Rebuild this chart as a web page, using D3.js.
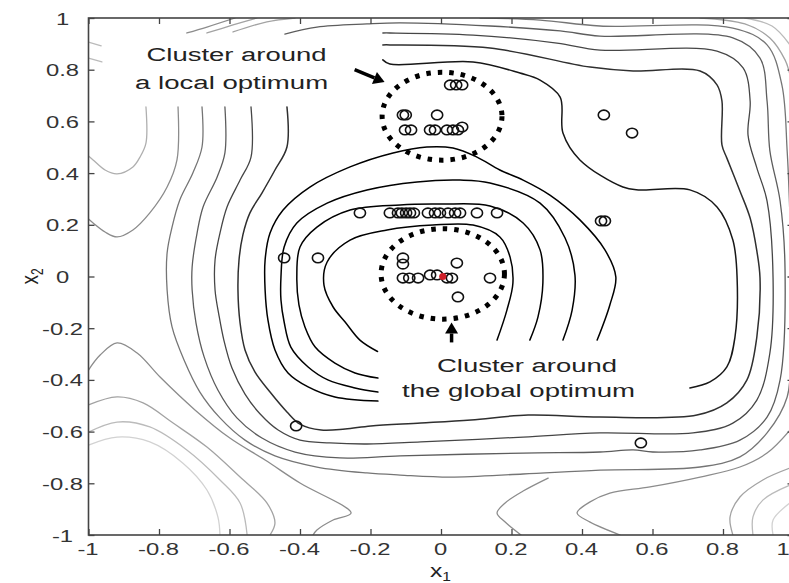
<!DOCTYPE html>
<html><head><meta charset="utf-8">
<script src="https://cdn.jsdelivr.net/npm/d3@7"></script>
<style>body{margin:0;background:#fff}svg{display:block}</style>
</head><body>
<svg id="c" width="789" height="583"></svg>
<script>
// ---------- DATA ----------
const xTickValues = [-1,-0.8,-0.6,-0.4,-0.2,0,0.2,0.4,0.6,0.8,1];
const xTickLabels = ["-1","-0.8","-0.6","-0.4","-0.2","0","0.2","0.4","0.6","0.8","1"];
const yTickValues = [-1,-0.8,-0.6,-0.4,-0.2,0,0.2,0.4,0.6,0.8,1];
const yTickLabels = ["-1","-0.8","-0.6","-0.4","-0.2","0","0.2","0.4","0.6","0.8","1"];

// contour polylines (x1, x2)
const ringH = [[-0.18,-0.29],[-0.23,-0.246],[-0.272,-0.176],[-0.306,-0.118],[-0.332,-0.033],[-0.323,0.056],[-0.258,0.141],[-0.153,0.18],[-0.023,0.199],[0.091,0.199],[0.167,0.153],[0.196,0.075],[0.204,-0.025],[0.187,-0.13],[0.159,-0.246]];
const ringG = [[-0.179,-0.393],[-0.244,-0.373],[-0.301,-0.335],[-0.357,-0.273],[-0.386,-0.195],[-0.403,-0.11],[-0.409,-0.002],[-0.4,0.114],[-0.352,0.191],[-0.258,0.257],[-0.116,0.277],[-0.003,0.28],[0.139,0.273],[0.233,0.207],[0.281,0.103],[0.289,-0.025],[0.275,-0.157],[0.252,-0.246]];
const ringF = [[-0.179,-0.447],[-0.244,-0.431],[-0.321,-0.4],[-0.377,-0.35],[-0.426,-0.273],[-0.445,-0.176],[-0.454,-0.091],[-0.454,-0.002],[-0.445,0.114],[-0.409,0.207],[-0.323,0.284],[-0.21,0.335],[-0.068,0.366],[0.054,0.373],[0.139,0.362],[0.281,0.284],[0.352,0.149],[0.38,0.006],[0.372,-0.13],[0.346,-0.246]];
const ringE = [[-0.179,-0.482],[-0.301,-0.466],[-0.377,-0.427],[-0.434,-0.373],[-0.471,-0.284],[-0.491,-0.168],[-0.499,-0.052],[-0.499,0.064],[-0.485,0.168],[-0.448,0.257],[-0.372,0.346],[-0.258,0.424],[-0.136,0.478],[-0.04,0.501],[0.034,0.497],[0.102,0.462],[0.167,0.412],[0.233,0.373],[0.309,0.315],[0.394,0.219],[0.465,0.103],[0.496,-0.002],[0.479,-0.11],[0.443,-0.246]];
const lineD = [[-0.165,0.838],[-0.145,0.822],[0.091,0.83],[0.224,0.787],[0.281,0.76],[0.338,0.694],[0.346,0.555],[0.394,0.451],[0.516,0.346],[0.565,0.335],[0.706,0.335],[0.783,0.269],[0.828,0.141],[0.84,-0.006],[0.834,-0.234],[0.811,-0.35],[0.763,-0.408],[0.706,-0.431]];
const lineC = [[-0.165,0.896],[-0.145,0.896],[0.139,0.884],[0.423,0.81],[0.545,0.795],[0.735,0.795],[0.783,0.741],[0.797,0.679],[0.797,0.509],[0.811,0.458],[0.848,0.331],[0.877,0.226],[0.896,0.099],[0.905,-0.006],[0.896,-0.234],[0.868,-0.4],[0.811,-0.489],[0.726,-0.536],[0.451,-0.544],[0.247,-0.536],[0.085,-0.555],[-0.057,-0.567],[-0.199,-0.578],[-0.272,-0.59],[-0.34,-0.594],[-0.4,-0.571],[-0.437,-0.524],[-0.485,-0.447],[-0.528,-0.369],[-0.556,-0.284],[-0.57,-0.18],[-0.576,-0.052],[-0.573,0.064],[-0.562,0.161],[-0.542,0.246],[-0.508,0.323],[-0.471,0.412],[-0.437,0.501],[-0.437,0.656]];
const lineB = [[-0.165,0.942],[-0.145,0.942],[0.091,0.934],[0.329,0.903],[0.451,0.876],[0.783,0.872],[0.857,0.807],[0.877,0.679],[0.871,0.547],[0.896,0.42],[0.925,0.292],[0.942,-0.006],[0.933,-0.296],[0.896,-0.478],[0.828,-0.567],[0.715,-0.605],[0.451,-0.605],[0.233,-0.621],[-0.057,-0.64],[-0.21,-0.648],[-0.315,-0.644],[-0.4,-0.633],[-0.462,-0.594],[-0.513,-0.532],[-0.556,-0.455],[-0.593,-0.354],[-0.616,-0.246],[-0.63,-0.149],[-0.641,-0.052],[-0.641,0.064],[-0.627,0.168],[-0.607,0.269],[-0.57,0.373],[-0.539,0.462],[-0.539,0.656]];
const lineA = [[-0.443,0.938],[-0.352,0.965],[-0.21,0.977],[-0.116,0.981],[0.139,0.969],[0.338,0.95],[0.451,0.93],[0.828,0.923],[0.905,0.845],[0.925,0.679],[0.933,0.486],[0.962,0.292],[0.976,0.025],[0.962,-0.4],[0.925,-0.544],[0.848,-0.633],[0.735,-0.671],[0.601,-0.679],[0.545,-0.671],[0.451,-0.679],[0.233,-0.683],[-0.116,-0.694],[-0.287,-0.702],[-0.414,-0.679],[-0.508,-0.625],[-0.579,-0.547],[-0.633,-0.439],[-0.672,-0.311],[-0.695,-0.18],[-0.706,-0.052],[-0.706,0.037],[-0.692,0.168],[-0.675,0.269],[-0.635,0.385],[-0.613,0.478],[-0.613,0.656]];
const line0 = [[-0.678,0.656],[-0.678,0.501],[-0.704,0.4],[-0.741,0.296],[-0.763,0.191],[-0.777,0.091],[-0.777,-0.052],[-0.763,-0.195],[-0.729,-0.323],[-0.684,-0.447],[-0.627,-0.547],[-0.556,-0.633],[-0.471,-0.694],[-0.352,-0.737],[-0.21,-0.76],[-0.116,-0.768],[0.026,-0.776],[0.233,-0.764],[0.451,-0.749],[0.735,-0.737],[0.848,-0.698],[0.925,-0.605],[0.982,-0.466],[0.99,-0.296]];
const line0Top = [[0.111,1.0],[0.281,0.992],[0.451,0.969],[0.828,0.961],[0.925,0.896],[0.967,0.741],[0.982,0.486],[0.99,0.226]];
const cornerTR1 = [[0.735,1.0],[0.862,0.977],[0.933,0.923],[0.976,0.838],[0.99,0.78]];
const cornerTR2 = [[0.862,1.0],[0.939,0.969],[0.99,0.896]];
const leftU1 = [[-0.837,0.656],[-0.837,0.516],[-0.854,0.462],[-0.874,0.424],[-0.919,0.397],[-0.953,0.412],[-0.987,0.451],[-1.0,0.466]];
const leftU2 = [[-0.746,0.656],[-0.749,0.451],[-0.777,0.346],[-0.826,0.246],[-0.874,0.18],[-0.919,0.153],[-0.953,0.172],[-0.987,0.207],[-1.0,0.222]];
const cornerBL1 = [[-1.0,-0.362],[-0.967,-0.304],[-0.919,-0.257],[-0.862,-0.296],[-0.797,-0.389],[-0.698,-0.516],[-0.599,-0.625],[-0.499,-0.71],[-0.4,-0.799],[-0.255,-0.915],[-0.306,-0.942],[-0.352,-0.981],[-0.363,-1.0]];
const cornerBL2 = [[-1.0,-0.497],[-0.919,-0.466],[-0.845,-0.489],[-0.76,-0.567],[-0.664,-0.66],[-0.57,-0.776],[-0.494,-0.876],[-0.471,-0.954],[-0.485,-1.0]];
const cornerBL3 = [[-1.0,-0.602],[-0.919,-0.563],[-0.826,-0.582],[-0.721,-0.671],[-0.627,-0.787],[-0.57,-0.876],[-0.55,-1.0]];
const cornerBL4 = [[-1.0,-0.652],[-0.919,-0.621],[-0.826,-0.64],[-0.732,-0.722],[-0.664,-0.826],[-0.633,-0.93],[-0.627,-1.0]];
const bottomTip1 = [[0.304,-0.78],[0.233,-0.83],[0.182,-0.876],[0.159,-0.915],[0.182,-0.95],[0.227,-1.0]];
const bottomTip2 = [[0.99,-0.594],[0.925,-0.683],[0.848,-0.737],[0.735,-0.776],[0.593,-0.814],[0.479,-0.838],[0.423,-0.872],[0.386,-0.915],[0.423,-0.95],[0.508,-1.0]];
const cornerBR1 = [[0.828,-1.0],[0.82,-0.93],[0.848,-0.853],[0.913,-0.787],[0.99,-0.741]];
const cornerBR2 = [[0.885,-1.0],[0.885,-0.93],[0.913,-0.865],[0.99,-0.807]];
const cornerBR3 = [[0.942,-1.0],[0.942,-0.942],[0.99,-0.876]];
const topD1 = [[-0.721,0.942],[-0.664,0.965],[-0.584,1.0]];
const topD2 = [[-0.664,0.942],[-0.59,0.973],[-0.522,1.0]];
const topD3 = [[-0.59,0.946],[-0.494,0.985],[-0.414,1.0]];
const edgeL1 = [[-1.0,0.907],[-0.964,0.892]];
const edgeL2 = [[-1.0,0.845],[-0.962,0.83]];

// contour level index of each polyline (higher = farther from the optimum)
const contourLines = [
  {pts: ringH, level: 1}, {pts: ringG, level: 2}, {pts: ringF, level: 3}, {pts: ringE, level: 4},
  {pts: lineD, level: 5}, {pts: lineC, level: 6}, {pts: lineB, level: 7}, {pts: lineA, level: 8},
  {pts: line0, level: 9}, {pts: line0Top, level: 9}, {pts: cornerTR1, level: 11}, {pts: cornerTR2, level: 12},
  {pts: leftU2, level: 10}, {pts: leftU1, level: 11.5},
  {pts: cornerBL1, level: 10}, {pts: cornerBL2, level: 11}, {pts: cornerBL3, level: 12}, {pts: cornerBL4, level: 13},
  {pts: bottomTip1, level: 10}, {pts: bottomTip2, level: 10},
  {pts: cornerBR1, level: 11}, {pts: cornerBR2, level: 12}, {pts: cornerBR3, level: 13},
  {pts: topD1, level: 10}, {pts: topD2, level: 11}, {pts: topD3, level: 11},
  {pts: edgeL1, level: 12}, {pts: edgeL2, level: 12}
];

// sample points
const sampleX1 = [-0.23,-0.145,-0.122,-0.111,-0.099,-0.088,-0.077,-0.037,-0.017,-0.003,0.02,0.04,0.054,0.102,0.159,
  -0.445,-0.349,
  -0.108,-0.108,-0.108,-0.09,-0.065,-0.031,-0.011,0.017,0.031,0.045,0.048,0.139,
  0.026,0.043,0.06,-0.108,-0.1,-0.011,-0.102,-0.085,-0.031,-0.017,0.017,0.034,0.048,0.06,
  0.462,0.542,0.454,0.465,0.567,-0.411];
const sampleX2 = [0.246,0.246,0.246,0.246,0.246,0.246,0.246,0.246,0.246,0.246,0.246,0.246,0.246,0.246,0.246,
  0.072,0.072,
  0.072,0.048,-0.006,-0.006,-0.006,0.006,0.006,-0.006,-0.006,0.052,-0.079,-0.006,
  0.741,0.741,0.741,0.625,0.625,0.625,0.567,0.567,0.567,0.567,0.567,0.567,0.567,0.578,
  0.625,0.555,0.215,0.215,-0.644,-0.578];
const bestPoint = [0.005, 0.0];

// cluster annotations: centre x1, centre x2, radius
const clusterCircles = [[0.003, 0.62, 0.17], [0.005, 0.01, 0.175]];
const arrowsData = [[[-0.245, 0.80], [-0.16, 0.752]], [[0.03, -0.255], [0.03, -0.178]]];
const labelsData = [
  {text: "Cluster around", x1: -0.58, x2: 0.834, w: 180},
  {text: "a local optimum", x1: -0.594, x2: 0.725, w: 193},
  {text: "Cluster around", x1: 0.244, x2: -0.369, w: 180},
  {text: "the global optimum", x1: 0.22, x2: -0.466, w: 233}
];

// ---------- DRAW ----------
const FONT = "'Liberation Sans', Arial, Helvetica, sans-serif";
const svg = d3.select("#c");
const x = d3.scaleLinear().domain([-1, 1]).range([88.5, 793.5]);
const y = d3.scaleLinear().domain([-1, 1]).range([535, 18]);

svg.append("defs").append("clipPath").attr("id", "pc")
  .append("rect").attr("x", x(-1)).attr("y", y(1)).attr("width", x(1) - x(-1)).attr("height", y(-1) - y(1));

const plot = svg.append("g").attr("clip-path", "url(#pc)");
const gray = d3.scaleLinear().domain([4, 13]).range(["#000000", "#d2d2d2"]).clamp(true);
const lineGen = d3.line().x(d => x(d[0])).y(d => y(d[1])).curve(d3.curveCatmullRom.alpha(0.5));

plot.selectAll("path.ct").data(contourLines).join("path").attr("class", "ct")
  .attr("d", d => lineGen(d.pts)).attr("fill", "none")
  .attr("stroke", d => gray(d.level)).attr("stroke-width", d => d.level <= 6 ? 1.5 : 1.3)
  .attr("stroke-linejoin", "round").attr("stroke-linecap", "round");

// samples
plot.selectAll("ellipse.pt").data(sampleX1.map((v, i) => [v, sampleX2[i]])).join("ellipse").attr("class", "pt")
  .attr("cx", d => x(d[0])).attr("cy", d => y(d[1])).attr("rx", 5.6).attr("ry", 4.8)
  .attr("fill", "none").attr("stroke", "#111").attr("stroke-width", 1.6);
plot.append("circle").attr("cx", x(bestPoint[0])).attr("cy", y(bestPoint[1])).attr("r", 3.6).attr("fill", "#d0202a");

// dotted cluster circles
plot.selectAll("ellipse.cl").data(clusterCircles).join("ellipse").attr("class", "cl")
  .attr("cx", d => x(d[0])).attr("cy", d => y(d[1]))
  .attr("rx", d => x(d[2]) - x(0)).attr("ry", d => y(0) - y(d[2]))
  .attr("fill", "none").attr("stroke", "#000").attr("stroke-width", 5).attr("stroke-dasharray", "4.5,7");

// arrows
arrowsData.forEach(a => {
  const x0 = x(a[0][0]), y0 = y(a[0][1]), x1 = x(a[1][0]), y1 = y(a[1][1]);
  const ang = Math.atan2(y1 - y0, x1 - x0), L = 11, Wd = 6.5;
  const bx = x1 - L * Math.cos(ang), by = y1 - L * Math.sin(ang);
  plot.append("line").attr("x1", x0).attr("y1", y0).attr("x2", bx).attr("y2", by)
    .attr("stroke", "#000").attr("stroke-width", 3.5);
  plot.append("path").attr("d", `M${x1},${y1}L${bx - Wd * Math.sin(ang)},${by + Wd * Math.cos(ang)}L${bx + Wd * Math.sin(ang)},${by - Wd * Math.cos(ang)}Z`)
    .attr("fill", "#000");
});

// annotation labels
plot.selectAll("text.lab").data(labelsData).join("text").attr("class", "lab")
  .attr("x", d => x(d.x1)).attr("y", d => y(d.x2)).attr("text-anchor", "middle")
  .attr("font-family", FONT).attr("font-size", 18).attr("fill", "#222")
  .attr("textLength", d => d.w).attr("lengthAdjust", "spacingAndGlyphs").text(d => d.text);

// frame
svg.append("rect").attr("x", x(-1)).attr("y", y(1)).attr("width", x(1) - x(-1)).attr("height", y(-1) - y(1))
  .attr("fill", "none").attr("stroke", "#444").attr("stroke-width", 1.6);

// axes
function styleAxis(g) {
  g.select(".domain").remove();
  g.selectAll(".tick line").attr("stroke", "#444").attr("stroke-width", 1.3);
  g.selectAll(".tick text").attr("font-family", FONT).attr("font-size", 17).attr("fill", "#333");
}
const gx = svg.append("g").attr("transform", `translate(0,${y(-1)})`)
  .call(d3.axisBottom(x).tickValues(xTickValues).tickFormat((d, i) => xTickLabels[i]).tickSizeInner(-6).tickSizeOuter(0));
styleAxis(gx);
gx.selectAll(".tick text").attr("y", null).attr("dy", null).attr("text-anchor", "middle")
  .attr("transform", d => d === 1 ? "translate(-11,20) scale(1.4,1)" : "translate(-1,20) scale(1.4,1)");

const gy = svg.append("g").attr("transform", `translate(${x(-1)},0)`)
  .call(d3.axisLeft(y).tickValues(yTickValues).tickFormat((d, i) => yTickLabels[i]).tickSizeInner(-6).tickSizeOuter(0));
styleAxis(gy);
gy.selectAll(".tick text").attr("x", null).attr("dy", null).attr("text-anchor", "middle")
  .attr("transform", "translate(-26,6) scale(1.4,1)");

const gt = svg.append("g").attr("transform", `translate(0,${y(1)})`)
  .call(d3.axisTop(x).tickValues(xTickValues).tickFormat("").tickSizeInner(-6).tickSizeOuter(0));
styleAxis(gt);
const gr = svg.append("g").attr("transform", `translate(${x(1)},0)`)
  .call(d3.axisRight(y).tickValues(yTickValues).tickFormat("").tickSizeInner(-6).tickSizeOuter(0));
styleAxis(gr);

// axis titles
const xl = svg.append("text").attr("font-family", FONT).attr("font-size", 19).attr("fill", "#222")
  .attr("transform", `translate(${x(0) - 11},577) scale(1.3,1)`);
xl.append("tspan").text("x");
xl.append("tspan").attr("font-size", 12).attr("dy", 4).text("1");
const yl = svg.append("text").attr("font-family", FONT).attr("font-size", 19).attr("fill", "#222")
  .attr("transform", `translate(38,${y(0) + 8}) rotate(-90) scale(1,1.3)`);
yl.append("tspan").text("x");
yl.append("tspan").attr("font-size", 12).attr("dy", 4).text("2");
</script>
</body></html>
